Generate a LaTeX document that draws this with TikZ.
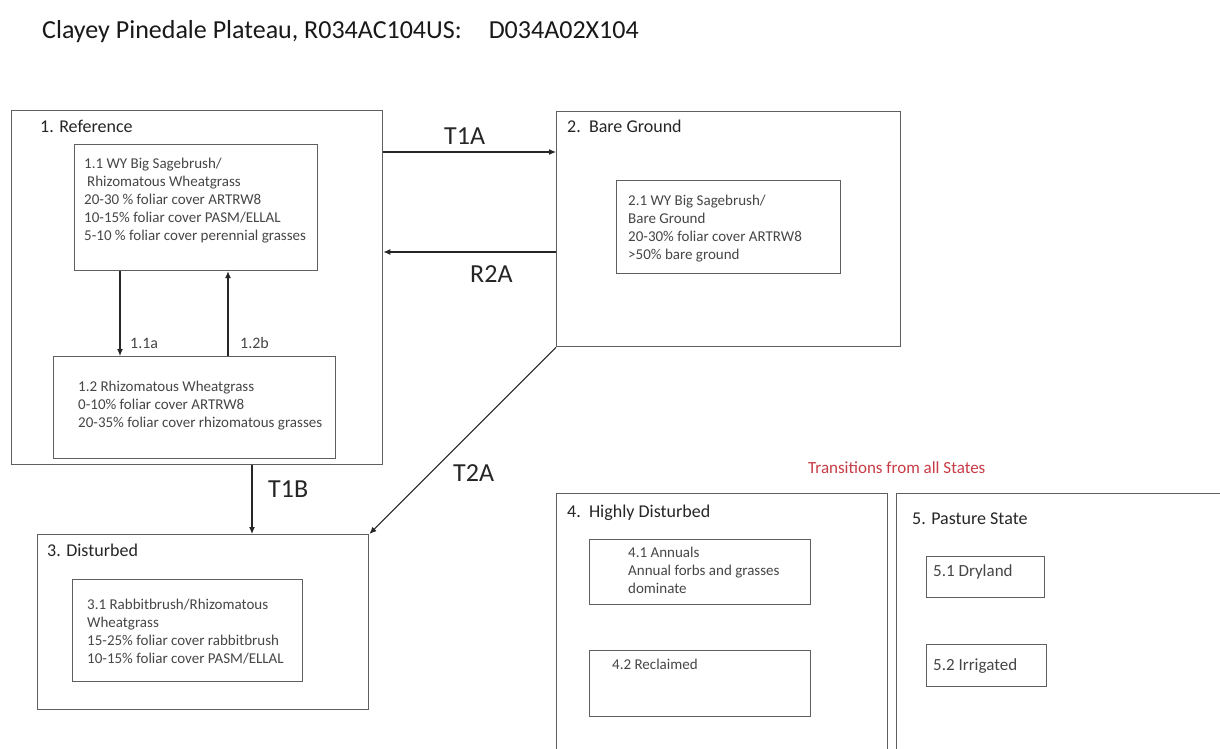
\documentclass[tikz,border=0pt]{standalone}
\usepackage{fontspec}
\setmainfont{Carlito}
\usetikzlibrary{arrows.meta}
\definecolor{boxgray}{RGB}{95,95,95}
\definecolor{txtgray}{RGB}{70,70,70}
\definecolor{allred}{RGB}{200,60,70}
\tikzset{
  state box/.style args={#1 by #2}{
    draw=boxgray,line width=1.4pt,anchor=north west,inner sep=0pt,
    minimum width=#1pt,minimum height=#2pt}, % outer state
  phase box/.style args={#1 by #2}{
    draw=boxgray,line width=1.2pt,anchor=north west,inner sep=0pt,
    minimum width=#1pt,minimum height=#2pt}, % community phase
  state name/.style={anchor=base west,inner sep=0pt,text=black!85,
    font=\fontsize{18}{20}\selectfont},
  phase text/.style={anchor=base west,inner sep=0pt,align=left,text=txtgray,
    font=\fontsize{15}{18}\selectfont}, % placed at its last baseline
  trans/.style={-{Latex[length=7pt,width=6pt]},line width=1.1pt,black!85},
  trans name/.style={anchor=base west,inner sep=0pt,text=black!85,
    font=\fontsize{26}{28}\selectfont},
}
\begin{document}
\begin{tikzpicture}[x=1pt,y=-1pt]
		\fill[white] (0,0) rectangle (1220,749);
		\useasboundingbox (0,0) rectangle (1220,749);

		\node (title) [anchor=base west,inner sep=0pt,text=black!90,font=\fontsize{26}{28}\selectfont]
		at (42,39) {Clayey Pinedale Plateau, R034AC104US:\hspace{27pt}D034A02X104};

		% states
		\node (s1) [state box=371 by 354] at (11,110) {};
		\node (s2) [state box=344 by 235] at (556,111) {};
		\node (s3) [state box=331 by 175] at (37,534) {};
		\node (s4) [state box=331 by 270] at (556,493) {};
		\node (s5) [state box=340 by 270] at (896,493) {};

		\node (s1name) [state name] at (40,132) {1. Reference};
		\node (s2name) [state name] at (567,132) {2.\ \ Bare Ground};
		\node (s3name) [state name] at (47,556) {3. Disturbed};
		\node (s4name) [state name] at (567,517) {4.\ \ Highly Disturbed};
		\node (s5name) [state name] at (912,524) {5. Pasture State};
		\node (allnote) [state name,text=allred,font=\fontsize{17}{20}\selectfont]
		at (808,473) {Transitions from all States};

		% phases
		\node (p11) [phase box=243 by 126] at (74,144) {};
		\node (p12) [phase box=282 by 102] at (53,356) {};
		\node (p21) [phase box=224 by 93] at (616,180) {};
		\node (p31) [phase box=230 by 102] at (72,579) {};
		\node (p41) [phase box=221 by 65] at (589,539) {};
		\node (p42) [phase box=221 by 66] at (589,650) {};
		\node (p51) [phase box=118 by 41] at (926,556) {};
		\node (p52) [phase box=120 by 42] at (926,644) {};

		\node (p11txt) [phase text] at (84,240) {1.1 WY Big Sagebrush/\\\hspace*{3pt}Rhizomatous Wheatgrass\\20-30 \% foliar cover ARTRW8\\10-15\% foliar cover PASM/ELLAL\\5-10 \% foliar cover perennial grasses};
		\node (p12txt) [phase text] at (78,427) {1.2 Rhizomatous Wheatgrass\\0-10\% foliar cover ARTRW8\\20-35\% foliar cover rhizomatous grasses};
		\node (p21txt) [phase text] at (628,259) {2.1 WY Big Sagebrush/\\Bare Ground\\20-30\% foliar cover ARTRW8\\>50\% bare ground};
		\node (p31txt) [phase text] at (87,663) {3.1 Rabbitbrush/Rhizomatous\\Wheatgrass\\15-25\% foliar cover rabbitbrush\\10-15\% foliar cover PASM/ELLAL};
		\node (p41txt) [phase text] at (628,593) {4.1 Annuals\\Annual forbs and grasses\\dominate};
		\node (p42txt) [phase text] at (612,669) {4.2 Reclaimed};
		\node (p51txt) [phase text,font=\fontsize{17}{20}\selectfont] at (933,576) {5.1 Dryland};
		\node (p52txt) [phase text,font=\fontsize{17}{20}\selectfont] at (933,670) {5.2 Irrigated};

		% transitions
		\draw[trans] ([yshift=-42pt]s1.north east) -- ([yshift=-42pt]s1.north east -| s2.west);
		\draw[trans] ([yshift=-141pt]s2.north west) -- ([yshift=-141pt]s2.north west -| s1.east);
		\draw[trans] ([xshift=241pt]s1.south west) -- ([xshift=241pt]s1.south west |- s3.north);
		\draw[trans] (s2.south west) -- (s3.north east);
		\draw[trans] ([xshift=46pt]p11.south west) -- ([xshift=46pt]p11.south west |- p12.north);
		\draw[trans] ([xshift=175pt]p12.north west) -- ([xshift=175pt]p12.north west |- p11.south);

		\node (t1a) [trans name] at (444,144) {T1A};
		\node (r2a) [trans name] at (470,282) {R2A};
		\node (t1b) [trans name] at (268,497) {T1B};
		\node (t2a) [trans name] at (453,481) {T2A};
		\node (p11a) [phase text,font=\fontsize{16}{18}\selectfont] at (130,348) {1.1a};
		\node (p12b) [phase text,font=\fontsize{16}{18}\selectfont] at (240,348) {1.2b};

\end{tikzpicture}
\end{document}
